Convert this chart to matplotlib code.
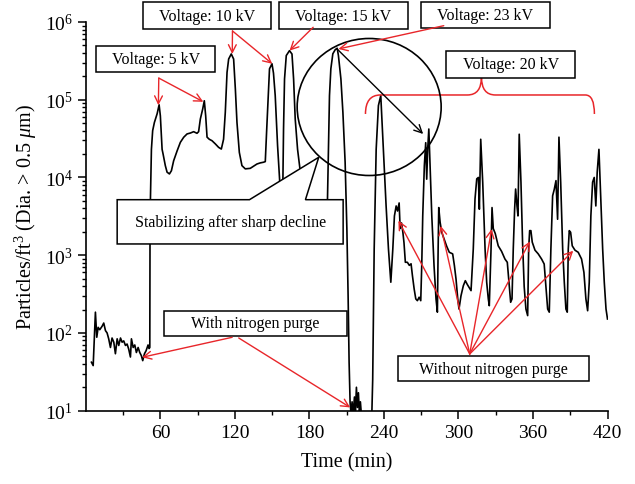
import numpy as np
import matplotlib
matplotlib.use("Agg")
import matplotlib.pyplot as plt
import matplotlib.patches as patches
from matplotlib.path import Path
from matplotlib.ticker import LogLocator, FixedLocator

plt.rcParams["font.family"] = ["Liberation Serif", "DejaVu Serif"]
plt.rcParams["mathtext.fontset"] = "custom"
plt.rcParams["mathtext.rm"] = "Liberation Serif"
plt.rcParams["mathtext.it"] = "Liberation Serif:italic"

# particle counter trace (time in min, particles/ft^3)
time_min = [
    4.4, 5.8, 7.6, 8.7, 9.8, 11.1, 13.0, 14.3, 15.7, 17.0, 18.3, 19.7, 21.0, 22.4,
    23.7, 25.1, 26.4, 27.8, 29.1, 30.4, 31.8, 33.1, 34.4, 35.8, 36.6, 38.0, 39.3,
    40.6, 42.0, 43.3, 44.6, 45.7, 47.1, 48.4, 50.0, 50.8, 51.4, 51.6, 52.7, 53.7,
    55.1, 57.3, 58.9, 59.9, 61.3, 62.1, 63.9, 65.3, 67.2, 68.8, 70.6, 73.4, 76.0,
    78.7, 81.4, 84.1, 86.7, 89.4, 90.7, 92.1, 94.0, 95.3, 96.4, 97.5, 99.3, 101.5,
    104.2, 106.8, 109.0, 110.8, 112.2, 113.6, 114.9, 117.0, 118.9, 120.3, 121.6,
    123.5, 125.6, 128.3, 132.3, 137.7, 140.4, 143.0, 144.4, 145.5, 147.8, 149.8,
    151.0, 152.4, 154.3, 155.9, 157.2, 158.6, 159.1, 159.9, 161.3, 163.9, 165.9,
    167.2, 168.5, 170.4, 172.0, 175.0, 180.0, 186.0, 191.0, 193.5, 194.5, 195.3,
    196.1, 197.2, 198.8, 200.7, 202.3, 203.3, 205.3, 206.9, 208.7, 210.1, 211.1,
    211.9, 212.7, 213.5, 214.3, 215.2, 216.2, 217.0, 217.8, 218.6, 219.4, 220.2,
    221.0, 222.0, 223.0, 229.8, 230.9, 232.1, 233.7, 235.5, 237.4, 239.5, 241.7,
    243.6, 245.5, 247.1, 248.4, 249.8, 250.9, 252.2, 253.0, 254.1, 255.2, 256.1,
    257.2, 258.8, 260.4, 261.8, 262.9, 264.3, 265.6, 266.9, 268.3, 269.6, 270.4,
    271.2, 272.5, 273.6, 274.4, 275.2, 276.1, 277.1, 278.5, 280.3, 281.9, 283.0,
    283.6, 284.1, 285.2, 286.5, 288.4, 290.5, 292.6, 295.3, 296.7, 298.0, 299.4,
    300.4, 302.0, 303.9, 305.5, 307.1, 308.7, 310.1, 311.9, 313.3, 314.7, 316.0,
    316.8, 317.9, 319.5, 321.4, 322.7, 324.0, 324.8, 326.2, 327.0, 328.0, 329.6,
    332.0, 334.7, 337.4, 339.3, 340.9, 342.0, 343.1, 344.1, 345.2, 346.0, 347.1,
    347.9, 348.9, 350.3, 351.6, 352.9, 354.3, 355.7, 356.5, 357.3, 358.3, 359.4,
    361.6, 364.2, 366.9, 369.0, 370.4, 371.8, 373.1, 374.4, 375.8, 377.1, 378.5,
    379.8, 380.9, 382.3, 383.9, 385.2, 386.5, 387.6, 388.4, 389.2, 390.3, 391.6,
    393.8, 396.4, 399.1, 401.0, 402.6, 404.0, 405.3, 406.6, 408.0, 409.3, 410.6,
    411.7, 413.1, 414.5, 416.1, 417.4, 418.8, 420.0,
]
particles = [
    42, 38, 185, 88, 118, 110, 122, 134, 107, 100, 84, 65, 86, 76,
    54, 84, 69, 86, 76, 79, 69, 72, 62, 49, 84, 65, 70,
    56, 65, 56, 51, 44, 54, 59, 70, 63, 65, 3000, 2.3e4, 4.0e4,
    5.1e4, 6.6e4, 8.6e4, 6.2e4, 2.3e4, 2.0e4, 1.42e4, 1.17e4, 1.11e4, 1.22e4, 1.64e4, 2.2e4, 2.83e4,
    3.29e4, 3.63e4, 3.73e4, 3.88e4, 3.7e4, 3.88e4, 5.65e4, 7.6e4, 9.7e4, 6.2e4, 3.3e4, 3.1e4, 2.97e4,
    2.7e4, 2.44e4, 2.32e4, 3.1e4, 6.9e4, 2.25e5, 3.34e5, 3.88e5, 3.34e5, 1.37e5, 5.1e4,
    2.1e4, 1.42e4, 1.29e4, 1.31e4, 1.49e4, 1.54e4, 1.57e4, 1.6e4, 4.0e4, 2.5e5, 2.9e5,
    2.2e5, 1.13e5, 2.56e4, 9.6e3, 4.0e3, 9.6e3, 4.2e4, 1.85e5, 3.7e5, 4.28e5, 3.87e5,
    1.85e5, 5.65e4, 2.3e4, 1.42e4, 6.0e3, 3.5e3, 2.8e3, 3.0e3, 4.0e3, 5.3e3, 2.56e4,
    1.13e5, 2.5e5, 3.9e5, 4.4e5, 4.6e5, 3.7e5, 1.85e5, 6.9e4, 1.57e4, 2.2e3, 301,
    42, 12.8, 9, 13, 9, 15, 10, 20, 11, 17, 9,
    13, 8, 5, 5, 25, 1.2e3, 2.3e4, 8.4e4, 1.13e5, 2.3e4, 4.3e3,
    1.2e3, 449, 1.2e3, 3.2e3, 4.3e3, 3.7e3, 4.7e3, 2.2e3, 2.6e3, 1.97e3, 1.45e3,
    811, 811, 740, 775, 546, 367, 274, 260, 288, 260, 740,
    3.2e3, 1.42e4, 2.8e4, 9.5e3, 2.3e4, 4.2e4, 1.42e4, 3.2e3, 735, 274, 185,
    1.2e3, 4.1e3, 2.65e3, 1.97e3, 1.62e3, 1.3e3, 1.09e3, 1.04e3, 735, 494, 274,
    203, 300, 405, 470, 420, 380, 350, 1.2e3, 5.3e3, 9.6e3, 1.0e4,
    3.9e3, 3.1e4, 8.7e3, 1.2e3, 449, 274, 224, 1.2e3, 4.1e3, 2.2e3, 1.9e3,
    1.32e3, 1.12e3, 893, 810, 400, 248, 274, 1.2e3, 3.9e3, 7.1e3, 4.3e3,
    3.2e3, 3.6e4, 8.7e3, 1.45e3, 395, 203, 167, 1.2e3, 2.07e3, 2.07e3, 1.47e3,
    1.16e3, 1.04e3, 893, 770, 395, 203, 185, 1.2e3, 5.8e3, 7.0e3, 9.1e3,
    2.9e3, 3.3e4, 8.7e3, 1.2e3, 449, 203, 185, 1.2e3, 2.07e3, 1.97e3, 1.32e3,
    1.16e3, 1.09e3, 893, 603, 274, 193, 449, 3.2e3, 8.7e3, 1.0e4, 4.3e3,
    1.17e4, 2.3e4, 5.8e3, 1.2e3, 449, 203, 151,
]

x_ticks = [60, 120, 180, 240, 300, 360, 420]
x_minor = [30, 90, 150, 210, 270, 330, 390]

RED = "#e8262a"
fs_txt = 11.5


def box(ax, x0, y0, x1, y1, text_s):
    rect = patches.Rectangle((x0, y0), x1 - x0, y1 - y0, transform=ax.transAxes,
                             facecolor="white", edgecolor="black", lw=1.1,
                             clip_on=False, zorder=6)
    ax.add_patch(rect)
    ax.text((x0 + x1) / 2, (y0 + y1) / 2, text_s, transform=ax.transAxes,
            ha="center", va="center", fontsize=fs_txt, zorder=7, clip_on=False)


def arrow(ax, tail, head, head_coords="data", color=RED):
    ax.annotate("", xy=head, xycoords=head_coords, xytext=tail,
                textcoords="axes fraction",
                arrowprops=dict(arrowstyle="->", color=color, lw=1.0,
                                shrinkA=0, shrinkB=0, mutation_scale=14),
                zorder=8, annotation_clip=False)


fig = plt.figure(figsize=(6.35, 4.85), dpi=100)
ax = fig.add_axes([0.1354, 0.1512, 0.8213, 0.8014])

ax.plot(time_min, particles, color="black", lw=1.2, zorder=2)
ax.set_yscale("log")
ax.set_xlim(0, 420)
ax.set_ylim(10, 1e6)

ax.set_xticks(x_ticks)
ax.xaxis.set_minor_locator(FixedLocator(x_minor))
ax.yaxis.set_major_locator(LogLocator(base=10, numticks=10))
ax.yaxis.set_minor_locator(LogLocator(base=10, subs=np.arange(2, 10), numticks=10))
ax.tick_params(axis="both", which="major", direction="out", length=6, width=1.1,
               labelsize=14)
ax.tick_params(axis="both", which="minor", direction="out", length=3, width=1.0)

for side in ["top", "right"]:
    ax.spines[side].set_visible(False)
for side in ["left", "bottom"]:
    ax.spines[side].set_linewidth(1.2)

ax.set_xlabel("Time (min)", fontsize=14.5, labelpad=8)
ax.set_ylabel(r"Particles/ft$^3$ (Dia. > 0.5 $\mu$m)", fontsize=14.5, labelpad=4)

# voltage labels
box(ax, 0.0201, 0.8706, 0.2483, 0.9390, "Voltage: 5 kV")
arrow(ax, (0.1396, 0.8557), (58.3, 8.5e4))
arrow(ax, (0.1396, 0.8557), (94.5, 9.4e4))

box(ax, 0.1097, 0.9820, 0.3556, 1.0507, "Voltage: 10 kV")
arrow(ax, (0.2809, 0.9769), (117.8, 3.87e5))
arrow(ax, (0.2809, 0.9769), (150.0, 2.9e5))

box(ax, 0.3696, 0.9820, 0.6170, 1.0507, "Voltage: 15 kV")
arrow(ax, (0.4356, 0.9864), (163.9, 4.28e5))

box(ax, 0.6426, 0.9838, 0.8892, 1.0522, "Voltage: 23 kV")
arrow(ax, (0.6860, 0.9905), (203.3, 4.5e5))

box(ax, 0.6912, 0.8559, 0.9385, 0.9262, "Voltage: 20 kV")
brace_v = [(0.5359, 0.7633), (0.5359, 0.8122), (0.5646, 0.8122),
           (0.7314, 0.8122), (0.7583, 0.8122), (0.7583, 0.8585),
           (0.7583, 0.8122), (0.7851, 0.8122),
           (0.9576, 0.8122), (0.9749, 0.8122), (0.9749, 0.7633)]
brace_c = [Path.MOVETO, Path.CURVE3, Path.CURVE3,
           Path.LINETO, Path.CURVE3, Path.CURVE3,
           Path.CURVE3, Path.CURVE3,
           Path.LINETO, Path.CURVE3, Path.CURVE3]
ax.add_patch(patches.PathPatch(Path(brace_v, brace_c), transform=ax.transAxes,
                               facecolor="none", edgecolor=RED, lw=1.1,
                               clip_on=False, zorder=5))

# circle around the 23 kV peak and decline arrow
ax.add_patch(patches.Ellipse((0.5430, 0.7813), 0.2761, 0.3525,
                             transform=ax.transAxes, facecolor="none",
                             edgecolor="black", lw=1.2, zorder=5))
arrow(ax, (0.4816, 0.9305), (0.6465, 0.7119), head_coords="axes fraction",
      color="black")

# callout with pointer
callout = [(0.0598, 0.4289), (0.4931, 0.4289), (0.4931, 0.5428),
           (0.4208, 0.5428), (0.4463, 0.6519), (0.3135, 0.5428),
           (0.0598, 0.5428)]
ax.add_patch(patches.Polygon(callout, closed=True, transform=ax.transAxes,
                             facecolor="white", edgecolor="black", lw=1.1,
                             zorder=6))
ax.text((0.0598 + 0.4931) / 2, (0.4289 + 0.5428) / 2,
        "Stabilizing after sharp decline", transform=ax.transAxes,
        ha="center", va="center", fontsize=fs_txt, zorder=7)

# nitrogen purge labels
box(ax, 0.1492, 0.1930, 0.5008, 0.2573, "With nitrogen purge")
arrow(ax, (0.2803, 0.1888), (45.2, 48.6))
arrow(ax, (0.2929, 0.1870), (212.8, 11))

box(ax, 0.5986, 0.0756, 0.9647, 0.1400, "Without nitrogen purge")
for head in [(251.6, 2.78e3), (285.7, 2.38e3), (326.7, 2.17e3),
             (357.5, 1.5e3), (392.4, 1.14e3)]:
    arrow(ax, (0.7358, 0.1459), head)

fig.savefig("out.png", dpi=100)
